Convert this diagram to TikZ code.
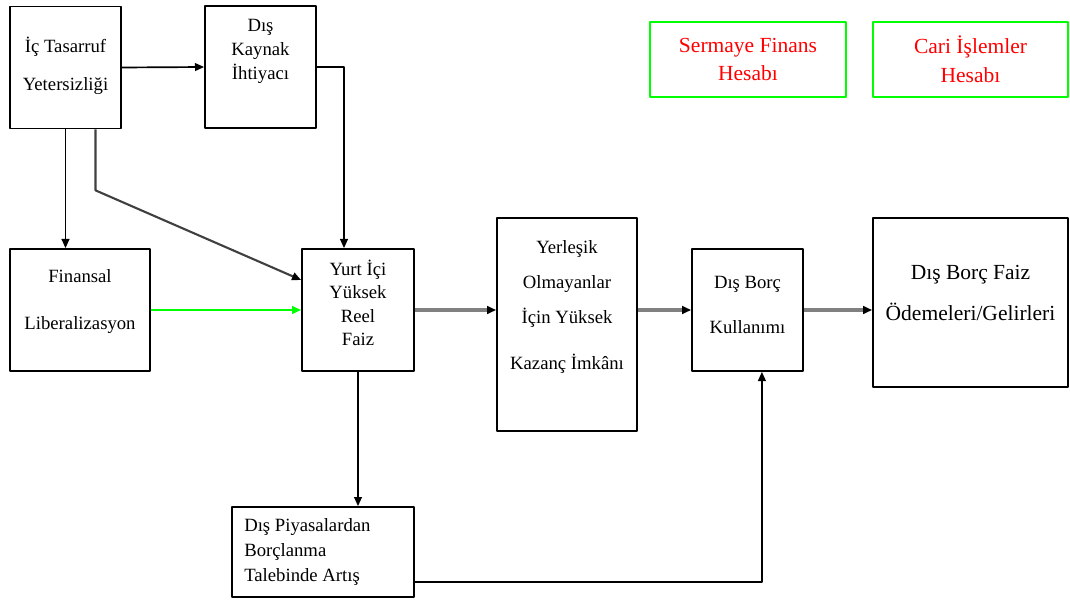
\documentclass[tikz,border=0pt]{standalone}
\usepackage{fontspec}
\setmainfont{Liberation Serif}
\usetikzlibrary{arrows.meta}

\begin{document}
\begin{tikzpicture}[x=0.025cm, y=-0.025cm, line join=round,
  >={Triangle[length=6.5pt,width=5.5pt]},
  box/.style={draw, line width=1.2pt, inner sep=0pt},
  acct/.style={draw=green, line width=1.5pt, inner sep=0pt, text=red, align=center,
    font=\fontsize{15.3}{20.6}\selectfont},
  txt/.style={align=center, inner sep=0pt, font=\fontsize{13.3}{#1}\selectfont},
  link/.style={->, line width=1.2pt},
  flow/.style={-{Triangle[length=6.5pt,width=5.5pt,black]}, line width=2.4pt, draw=black!50}]
  \useasboundingbox (0,0) rectangle (1070,603);

  % Boxes (px grid of the original picture)
  \node[box, minimum width=2.775cm, minimum height=3.05cm] (ict) at (65.5,67.5) {};
  \node[box, minimum width=2.775cm, minimum height=3.05cm] (dkay) at (260.5,67) {};
  \node[box, minimum width=3.5cm, minimum height=3.05cm] (fin) at (80,310) {};
  \node[box, minimum width=2.8cm, minimum height=3.05cm] (yurt) at (358,310) {};
  \node[box, minimum width=3.5cm, minimum height=5.325cm] (yerl) at (567,324.5) {};
  \node[box, minimum width=2.775cm, minimum height=3.05cm] (dbk) at (747.5,310) {};
  \node[box, minimum width=4.875cm, minimum height=4.225cm] (dbf) at (970.5,302.5) {};
  \node[box, minimum width=4.55cm, minimum height=2.25cm] (dpiy) at (323,552) {};

  % Account boxes, top right
  \node[acct, minimum width=4.9cm, minimum height=1.875cm] (serm) at (748,59.5)
    {Sermaye Finans\\Hesabı};
  \node[acct, minimum width=4.875cm, minimum height=1.875cm] (cari) at (970.5,59.5)
    {Cari İşlemler\\Hesabı};

  % Box texts
  \node[txt=27] (ict-t) at (65.5,66) {İç Tasarruf\\Yetersizliği};
  \node[txt=17] (dkay-t) at (260.5,51) {Dış\\Kaynak\\İhtiyacı};
  \node[txt=33.4] (fin-t) at (80,301.5) {Finansal\\Liberalizasyon};
  \node[txt=16.6] (yurt-t) at (358,303) {Yurt İçi\\Yüksek\\Reel\\Faiz};
  \node[txt=25] (yerl-t) at (567,307) {Yerleşik\\Olmayanlar\\İçin Yüksek\\[8pt]Kazanç İmkânı};
  \node[txt=32] (dbk-t) at (747.5,304.5) {Dış Borç\\Kullanımı};
  \node[align=center, inner sep=0pt, font=\fontsize{15.3}{28.5}\selectfont] (dbf-t)
    at (970.5,293) {Dış Borç Faiz\\Ödemeleri/Gelirleri};
  \node[txt=17.8, align=left, anchor=west] (dpiy-t) at (244,552)
    {Dış Piyasalardan\\Borçlanma\\Talebinde Artış};

  % Connectors
  \draw[link] (ict.east) -- (dkay.west);
  \draw[link] (dkay.east) -| ([xshift=-0.35cm]yurt.north);
  \draw[link] (ict.south) -- (ict.south |- fin.north);
  \draw[-{Triangle[length=6.5pt,width=5.5pt,black]}, line width=1.5pt, draw=black!75]
    ([xshift=0.75cm]ict.south) -- ++(0,61) -- ([yshift=0.75cm]yurt.west);
  \draw[link, green] (fin.east) -- (yurt.west);
  \draw[link] (yurt.south) -- (yurt.south |- dpiy.north);
  \draw[link] ([yshift=-0.75cm]dpiy.east) -| ([xshift=0.36cm]dbk.south);
  \draw[flow] (yurt.east) -- (yurt.east -| yerl.west);
  \draw[flow] (dbk.west -| yerl.east) -- (dbk.west);
  \draw[flow] (dbk.east) -- (dbk.east -| dbf.west);
\end{tikzpicture}
\end{document}
